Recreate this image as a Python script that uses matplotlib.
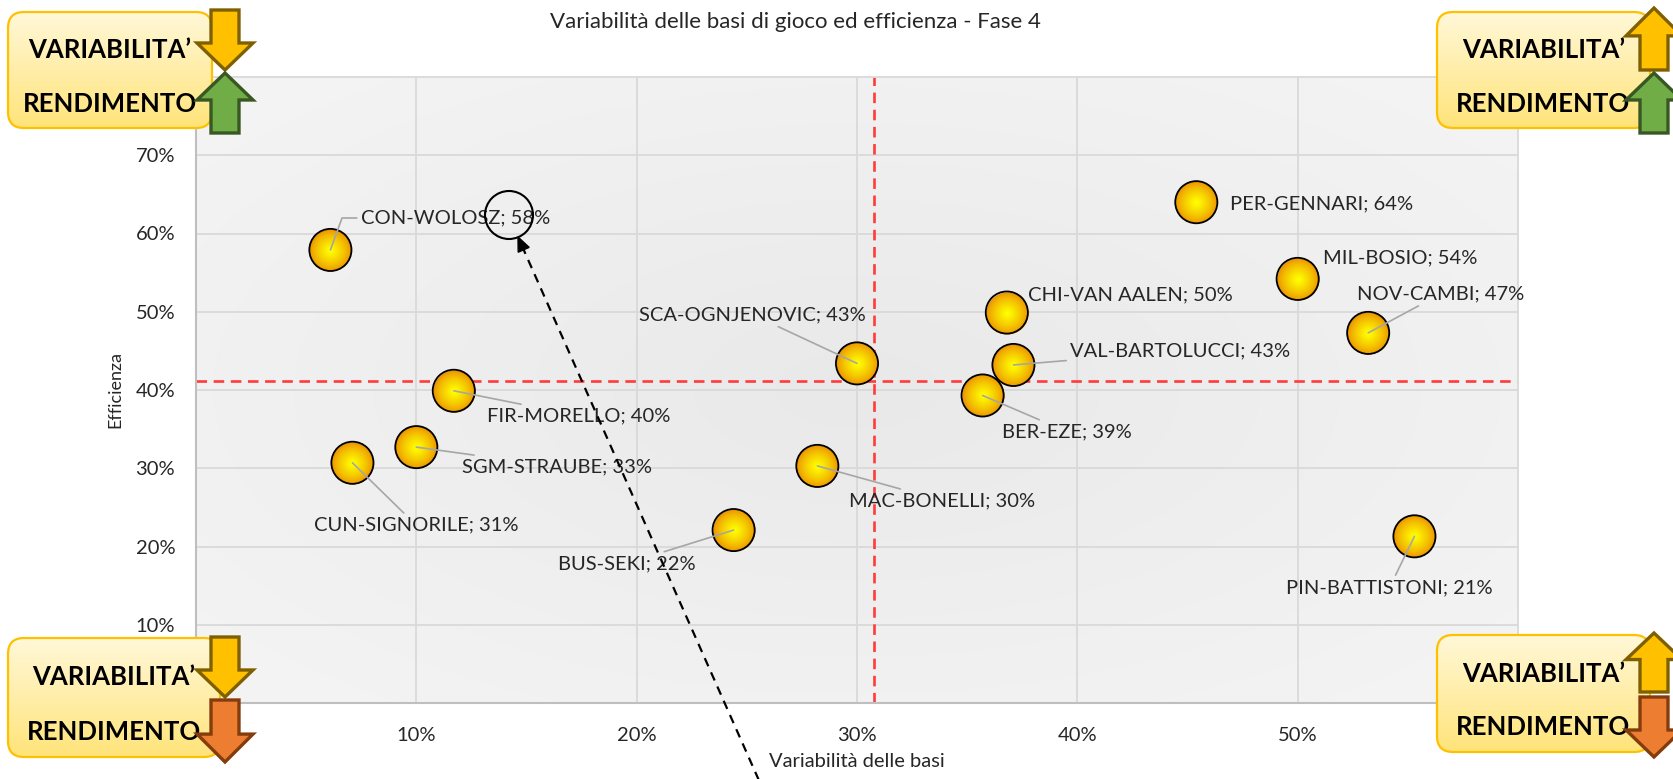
import numpy as np
import matplotlib
matplotlib.use("Agg")
import matplotlib.pyplot as plt
from matplotlib.patches import FancyBboxPatch, Polygon, Circle
from matplotlib.colors import LinearSegmentedColormap, to_rgb
from matplotlib.ticker import PercentFormatter

plt.rcParams["font.family"] = ["Lato", "DejaVu Sans"]

# data
squadre = ["CON-WOLOSZ", "PER-GENNARI", "MIL-BOSIO", "NOV-CAMBI", "CHI-VAN AALEN",
           "VAL-BARTOLUCCI", "BER-EZE", "SCA-OGNJENOVIC", "MAC-BONELLI", "BUS-SEKI",
           "FIR-MORELLO", "SGM-STRAUBE", "CUN-SIGNORILE", "PIN-BATTISTONI"]
variabilita = [0.061, 0.454, 0.500, 0.532, 0.368, 0.371, 0.357,
               0.300, 0.282, 0.244, 0.117, 0.100, 0.071, 0.553]
efficienza = [0.579, 0.640, 0.542, 0.473, 0.499, 0.432, 0.393,
              0.434, 0.303, 0.221, 0.399, 0.327, 0.307, 0.213]
x_ticks = [0.1, 0.2, 0.3, 0.4, 0.5]
y_ticks = [0.1, 0.2, 0.3, 0.4, 0.5, 0.6, 0.7]

# label placement (offset in points, alignment, leader line)
label_pos = [
    ((22, 23), "left", True), ((24, -1), "left", False), ((18, 15), "left", False),
    ((-8, 28), "left", True), ((15, 13), "left", False), ((41, 10), "left", True),
    ((14, -26), "left", True), ((-75, 35), "center", True), ((23, -25), "left", True),
    ((-77, -24), "center", True), ((24, -18), "left", True), ((33, -14), "left", True),
    ((46, -45), "center", True), ((-18, -37), "center", True),
]

W, H = 1674, 779
fig = plt.figure(figsize=(W / 100, H / 100), dpi=100)
ax = fig.add_axes([196 / W, 1 - 703 / H, (1518 - 196) / W, (703 - 77) / H])

# soft gray radial background of the plot area
yy, xx = np.mgrid[-1:1:200j, -1:1:300j]
r = np.clip(np.sqrt(xx ** 2 + yy ** 2) / 1.4, 0, 1)
ax.imshow(0.91 + 0.045 * r, cmap="gray", vmin=0, vmax=1, extent=[0, 0.6, 0, 0.8],
          aspect="auto", zorder=0, interpolation="bilinear")

ax.set_xlim(0, 0.6)
ax.set_ylim(0, 0.8)
ax.set_xticks(x_ticks)
ax.set_yticks(y_ticks)
ax.xaxis.set_major_formatter(PercentFormatter(1, decimals=0))
ax.yaxis.set_major_formatter(PercentFormatter(1, decimals=0))
ax.tick_params(length=0, labelsize=14.5, colors="#262626")
ax.tick_params(axis="x", pad=17)
ax.tick_params(axis="y", pad=15)
ax.grid(True, color="#D9D9D9", lw=1.3, zorder=1)
ax.set_axisbelow(True)
for s in ["top", "right"]:
    ax.spines[s].set_color("#D9D9D9")
    ax.spines[s].set_linewidth(1.3)
for s in ["left", "bottom"]:
    ax.spines[s].set_color("#BFBFBF")
    ax.spines[s].set_linewidth(1.5)

ax.set_xlabel("Variabilità delle basi", fontsize=14.5, color="#262626", labelpad=7)
ax.set_ylabel("Efficienza", fontsize=13, color="#262626", labelpad=9)

# average lines
ax.axvline(np.mean(variabilita), color="#FF3B3B", ls=(0, (4, 2.5)), lw=1.9, zorder=2)
ax.axhline(np.mean(efficienza), color="#FF3B3B", ls=(0, (4, 2.5)), lw=1.9, zorder=2)

# bubbles with a radial yellow-orange gradient
s_full = 920
c_edge, c_mid = np.array(to_rgb("#EC9500")), np.array(to_rgb("#FFFF00"))
n = 16
for k in range(n):
    f = 1 - k / n
    c = c_edge + (c_mid - c_edge) * (k / (n - 1)) ** 0.8
    ax.scatter(variabilita, efficienza, s=s_full * f ** 2, color=c, lw=0, zorder=3 + k * 0.001)
ax.scatter(variabilita, efficienza, s=s_full, facecolor="none", edgecolor="black", lw=1.3, zorder=3.1)

for i, (name, xv, yv, (off, ha, leader)) in enumerate(zip(squadre, variabilita, efficienza, label_pos)):
    props = None
    if leader:
        props = dict(arrowstyle="-", color="#A6A6A6", lw=1.2, shrinkA=1, shrinkB=0)
        if i == 0:
            props["connectionstyle"] = "angle,angleA=180,angleB=70,rad=0"
    ax.annotate(f"{name}; {yv:.0%}", (xv, yv), xytext=off, textcoords="offset points",
                ha=ha, va="center", fontsize=14.5, color="#262626", arrowprops=props, zorder=5)

fig.text(795 / W, 1 - 22 / H, "Variabilità delle basi di gioco ed efficienza - Fase 4",
         ha="center", va="center", fontsize=16, color="#262626")

# overlay in pixel coordinates for the quadrant notes
ov = fig.add_axes([0, 0, 1, 1], zorder=10)
ov.axis("off")
box_cmap = LinearSegmentedColormap.from_list("box", ["#FFF8D8", "#FFE47A"])


def note_box(x0, y0, x1, y1):
    p = FancyBboxPatch((x0, y0), x1 - x0, y1 - y0, boxstyle="round,pad=0,rounding_size=16",
                       fc="none", ec="#FFC000", lw=1.6, zorder=2)
    ov.add_patch(p)
    im = ov.imshow(np.linspace(0, 1, 100)[:, None], cmap=box_cmap, extent=[x0, x1, y1, y0],
                   aspect="auto", zorder=1, interpolation="bilinear")
    im.set_clip_path(p)
    cx = (x0 + x1) / 2
    h = y1 - y0
    ov.text(cx, y0 + 0.33 * h, "VARIABILITA’", ha="center", va="center",
            fontsize=18.5, fontweight="bold", color="black", zorder=3)
    ov.text(cx, y0 + 0.79 * h, "RENDIMENTO", ha="center", va="center",
            fontsize=18.5, fontweight="bold", color="black", zorder=3)


def block_arrow(x0, x1, y0, y1, up, fc, ec):
    cx = (x0 + x1) / 2
    sw = (x1 - x0) * 0.25
    hh = (y1 - y0) * 0.45
    if up:
        pts = [(cx, y0), (x1, y0 + hh), (cx + sw, y0 + hh), (cx + sw, y1),
               (cx - sw, y1), (cx - sw, y0 + hh), (x0, y0 + hh)]
    else:
        pts = [(cx, y1), (x1, y1 - hh), (cx + sw, y1 - hh), (cx + sw, y0),
               (cx - sw, y0), (cx - sw, y1 - hh), (x0, y1 - hh)]
    ov.add_patch(Polygon(pts, closed=True, fc=fc, ec=ec, lw=2.4, joinstyle="miter", zorder=4))


YEL, YEL_E = "#FFC000", "#7F6000"
GRN, GRN_E = "#70AD47", "#385723"
ORG, ORG_E = "#ED7D31", "#843C0C"

note_box(8, 12, 212, 128)
block_arrow(197, 253, 10, 70, False, YEL, YEL_E)
block_arrow(197, 253, 73, 133, True, GRN, GRN_E)

note_box(1437, 12, 1650, 128)
block_arrow(1626, 1682, 8, 70, True, YEL, YEL_E)
block_arrow(1626, 1682, 73, 133, True, GRN, GRN_E)

note_box(8, 638, 220, 757)
block_arrow(197, 253, 637, 697, False, YEL, YEL_E)
block_arrow(197, 253, 700, 762, False, ORG, ORG_E)

note_box(1437, 635, 1650, 752)
block_arrow(1626, 1682, 633, 692, True, YEL, YEL_E)
block_arrow(1626, 1682, 697, 757, False, ORG, ORG_E)

# callout around the CON-WOLOSZ value with a dashed arrow from the x axis title
ov.add_patch(Circle((509, 215), 24, fc="none", ec="black", lw=1.5, zorder=5))
tail, tip = np.array([761.0, 785.0]), np.array([518.0, 237.0])
d = (tip - tail) / np.linalg.norm(tip - tail)
nrm = np.array([-d[1], d[0]])
base = tip - 14 * d
ov.plot([tail[0], base[0]], [tail[1], base[1]], color="black", lw=1.6, ls=(0, (4, 3)), zorder=5)
ov.add_patch(Polygon([tip, base + 6 * nrm, base - 6 * nrm], closed=True, fc="black", ec="black", zorder=5))

ov.set_xlim(0, W)
ov.set_ylim(H, 0)

fig.savefig("out.png", dpi=100)
